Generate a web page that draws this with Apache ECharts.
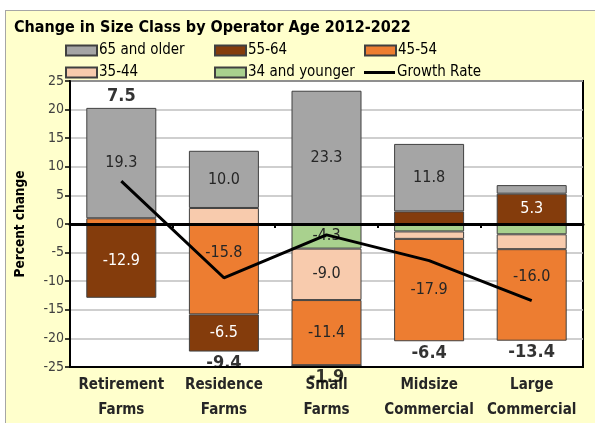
<!DOCTYPE html>
<html>
<head>
<meta charset="utf-8">
<script src="https://cdn.jsdelivr.net/npm/echarts@6/dist/echarts.min.js"></script>
<style>
  html, body { margin: 0; padding: 0; background: #fff; }
  #bg { position: absolute; left: 5px; top: 10px; width: 600px; height: 420px; background: #FFFFCC; border: 1px solid #A6A6A6; }
  #main { position: absolute; left: 0; top: 0; width: 595px; height: 423px; }
</style>
</head>
<body>
<div id="bg"></div>
<div id="main"></div>
<script>
var categories = ['Retirement\nFarms', 'Residence\nFarms', 'Small\nFarms', 'Midsize\nCommercial', 'Large\nCommercial'];
var age34 = [0, 0, -4.3, -1.3, -1.8];
var age35 = [0, 2.8, -9.0, -1.3, -2.6];
var age45 = [1.0, -15.8, -11.4, -17.9, -16.0];
var age55 = [-12.9, -6.5, 0, 2.2, 5.3];
var age65 = [19.3, 10.0, 23.3, 11.8, 1.5];
var growth = [7.5, -9.4, -1.9, -6.4, -13.4];
var yTicks = [-25, 25, 5];

var FONT = 'Liberation Sans Narrow, DejaVu Sans Condensed, Liberation Sans, sans-serif';

// ends of the stacks, used to place the growth labels
var posTotal = [], negTotal = [];
for (var i = 0; i < categories.length; i++) {
  var p = 0, n = 0;
  [age34, age35, age45, age55, age65].forEach(function (a) {
    if (a[i] > 0) p += a[i]; else n += a[i];
  });
  posTotal.push(p);
  negTotal.push(n);
}
var growthLabelPts = growth.map(function (g, i) {
  return {
    value: g > 0 ? posTotal[i] : negTotal[i],
    label: { position: g > 0 ? 'top' : 'bottom', formatter: g.toFixed(1) }
  };
});

function barSeries(name, data, color, labelColor, shift) {
  return {
    name: name,
    type: 'bar',
    stack: 'age',
    barWidth: 70,
    // a couple of labels were nudged up in the original so the line misses them
    data: data.map(function (v, i) {
      var d = { value: v };
      if (shift && shift[i]) d.label = { offset: [0, shift[i]] };
      return d;
    }),
    itemStyle: { color: color, borderColor: '#404040', borderWidth: 1 },
    label: {
      show: true,
      position: 'inside',
      color: labelColor,
      fontSize: 16,
      fontFamily: FONT,
      formatter: function (p) { return Math.abs(p.value) >= 4 ? p.value.toFixed(1) : ''; }
    }
  };
}

function legendItem(name, left, top, line) {
  return {
    data: [line ? { name: name, icon: 'rect', itemStyle: { color: '#000', borderWidth: 0 } } : { name: name, icon: 'rect' }],
    left: left, top: top,
    itemWidth: 31, itemHeight: line ? 3 : 10, itemGap: 2,
    textStyle: { fontSize: 15, color: '#000', fontFamily: FONT, padding: [0, 0, 0, -3] },
    selectedMode: false
  };
}

var myChart = echarts.init(document.getElementById('main'));
var option = {
  backgroundColor: 'transparent',
  animation: false,
  title: {
    text: 'Change in Size Class by Operator Age 2012-2022',
    left: 9, top: 15,
    textStyle: { fontSize: 16, fontWeight: 'bold', color: '#000', fontFamily: FONT }
  },
  legend: [
    legendItem('65 and older', 60, 38),
    legendItem('55-64', 209, 38),
    legendItem('45-54', 359, 38),
    legendItem('35-44', 60, 60),
    legendItem('34 and younger', 209, 60),
    legendItem('Growth Rate', 359, 60, true)
  ],
  grid: {
    left: 70, right: 12, top: 81, bottom: 56,
    show: true, backgroundColor: '#fff', borderColor: '#000', borderWidth: 2
  },
  xAxis: [{
    type: 'category',
    data: categories,
    position: 'bottom',
    axisLine: { onZero: false, lineStyle: { color: '#000', width: 2 } },
    axisTick: { show: false },
    axisLabel: {
      interval: 0, margin: 6,
      fontSize: 15, fontWeight: 'bold', lineHeight: 25, color: '#262626', fontFamily: FONT
    }
  }, {
    type: 'category',
    data: categories,
    position: 'bottom',
    z: 3,
    axisLine: { onZero: true, lineStyle: { color: '#000', width: 3 } },
    axisTick: { show: true, length: 4, lineStyle: { color: '#000', width: 2 } },
    axisLabel: { show: false }
  }],
  yAxis: {
    type: 'value',
    min: yTicks[0], max: yTicks[1], interval: yTicks[2],
    name: 'Percent change',
    nameLocation: 'middle',
    nameGap: 43,
    nameTextStyle: { fontSize: 13.5, fontWeight: 'bold', color: '#000', fontFamily: FONT },
    axisLine: { show: true, lineStyle: { color: '#000', width: 2 } },
    axisTick: { show: true, length: 5, lineStyle: { color: '#000', width: 1.5 } },
    axisLabel: { fontSize: 14, color: '#404040', margin: 6, fontFamily: FONT },
    splitLine: { lineStyle: { color: '#BFBFBF', width: 1.5 } }
  },
  series: [
    barSeries('34 and younger', age34, '#A9D18E', '#262626'),
    barSeries('35-44', age35, '#F8CBAD', '#262626'),
    barSeries('45-54', age45, '#ED7D31', '#262626', [0, -16, 0, 0, -18]),
    barSeries('55-64', age55, '#843C0C', '#fff'),
    barSeries('65 and older', age65, '#A5A5A5', '#262626'),
    {
      name: 'Growth Rate',
      type: 'line',
      data: growth,
      symbol: 'none',
      z: 5,
      lineStyle: { color: '#000', width: 3 },
      itemStyle: { color: '#000' }
    },
    {
      name: 'growth labels',
      type: 'scatter',
      data: growthLabelPts,
      symbolSize: 0,
      silent: true,
      z: 6,
      label: {
        show: true, distance: 3,
        fontSize: 18, fontWeight: 'bold', color: '#000', fontFamily: FONT
      }
    }
  ]
};
myChart.setOption(option);
</script>
</body>
</html>
